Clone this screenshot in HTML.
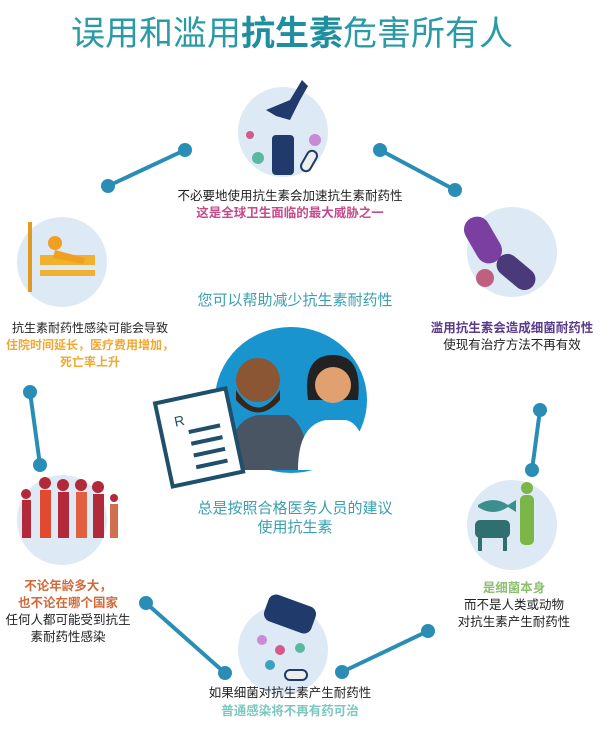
<!DOCTYPE html>
<html><head><meta charset="utf-8"><style>
html,body{margin:0;padding:0;background:#fff;}
svg text{font-family:"Liberation Sans","Noto Sans CJK SC",sans-serif;}
</style></head><body>
<svg width="615" height="727" viewBox="0 0 615 727" xmlns="http://www.w3.org/2000/svg">
<rect width="615" height="727" fill="#fff"/>
<text x="292" y="45" text-anchor="middle" font-size="34" fill="#2a9aa6">误用和滥用<tspan font-weight="bold" fill="#1f8fa0">抗生素</tspan>危害所有人</text>

<g stroke="#2a8db5" stroke-width="4" fill="#2a8db5" stroke-linecap="round">
<line x1="108" y1="186" x2="185" y2="150"/><circle cx="108" cy="186" r="5"/><circle cx="185" cy="150" r="5"/>
<line x1="380" y1="150" x2="455" y2="190"/><circle cx="380" cy="150" r="5"/><circle cx="455" cy="190" r="5"/>
<line x1="30" y1="392" x2="40" y2="465"/><circle cx="30" cy="392" r="5"/><circle cx="40" cy="465" r="5"/>
<line x1="540" y1="410" x2="532" y2="470"/><circle cx="540" cy="410" r="5"/><circle cx="532" cy="470" r="5"/>
<line x1="146" y1="603" x2="225" y2="673"/><circle cx="146" cy="603" r="5"/><circle cx="225" cy="673" r="5"/>
<line x1="342" y1="672" x2="428" y2="631"/><circle cx="342" cy="672" r="5"/><circle cx="428" cy="631" r="5"/>
</g>

<g fill="#dde9f4">
<circle cx="283" cy="132" r="45"/>
<circle cx="62" cy="262" r="45"/>
<circle cx="512" cy="252" r="45"/>
<circle cx="62" cy="520" r="45"/>
<circle cx="512" cy="525" r="45"/>
<circle cx="283" cy="650" r="45"/>
</g>
<path d="M290 100 l12 -20 l6 6 l-8 14 l-10 20 l-14 -4 l-10 -6 z" fill="#1f3a6b"/>
<rect x="272" y="135" width="22" height="40" rx="4" fill="#1f3a6b"/>
<circle cx="258" cy="158" r="6" fill="#5bb8a0"/><circle cx="315" cy="140" r="6" fill="#c98ad6"/><circle cx="250" cy="135" r="4" fill="#d35a8a"/>
<rect x="304" y="150" width="10" height="22" rx="5" fill="#eee" stroke="#1f3a6b" stroke-width="2" transform="rotate(30 309 161)"/>
<rect x="40" y="255" width="55" height="10" fill="#f0b030"/><rect x="40" y="270" width="55" height="6" fill="#f0b030"/>
<rect x="28" y="222" width="4" height="70" fill="#e09a20"/><circle cx="55" cy="243" r="7" fill="#f0a020"/><path d="M55 250 l30 8 l-2 6 l-30 -6z" fill="#f0a020"/>
<rect x="470" y="215" width="26" height="50" rx="13" fill="#7a3fa0" transform="rotate(-30 483 240)"/>
<rect x="505" y="250" width="22" height="44" rx="11" fill="#4a3a7a" transform="rotate(-50 516 272)"/>
<circle cx="485" cy="278" r="9" fill="#c06080"/>
<g fill="#b22a3a"><rect x="22" y="500" width="9" height="38"/><rect x="40" y="490" width="11" height="48" fill="#e04a30"/><rect x="58" y="492" width="11" height="46"/><rect x="76" y="492" width="11" height="46" fill="#e06040"/><rect x="93" y="494" width="11" height="44"/><rect x="110" y="504" width="8" height="34" fill="#d07050"/>
<circle cx="26" cy="494" r="5"/><circle cx="45" cy="483" r="6"/><circle cx="63" cy="485" r="6"/><circle cx="81" cy="485" r="6"/><circle cx="98" cy="487" r="6"/><circle cx="114" cy="498" r="4"/></g>
<path d="M478 505 q15 -10 30 0 l8 -5 v12 l-8 -5 q-15 10 -30 0z" fill="#3c8f8f"/>
<rect x="475" y="520" width="35" height="18" rx="5" fill="#2f6f70"/><rect x="478" y="536" width="4" height="15" fill="#2f6f70"/><rect x="503" y="536" width="4" height="15" fill="#2f6f70"/>
<rect x="520" y="495" width="14" height="50" rx="5" fill="#7ab648"/><circle cx="527" cy="488" r="6" fill="#7ab648"/>
<rect x="265" y="600" width="50" height="28" rx="8" fill="#1f3a6b" transform="rotate(20 290 614)"/>
<circle cx="262" cy="640" r="5" fill="#c98ad6"/><circle cx="280" cy="650" r="5" fill="#d35a8a"/><circle cx="300" cy="648" r="5" fill="#5bb8a0"/><circle cx="270" cy="665" r="5" fill="#3aa0c0"/>
<rect x="285" y="670" width="22" height="10" rx="5" fill="#eee" stroke="#1f3a6b" stroke-width="2"/>

<ellipse cx="291" cy="400" rx="76" ry="73" fill="#1a94cf"/>
<path d="M228 470 q0 -50 30 -55 l30 0 q20 10 20 55z" fill="#4a5563"/>
<circle cx="258" cy="380" r="22" fill="#8a5634"/><path d="M236 390 q22 35 44 0 v10 q-22 25 -44 0z" fill="#3b2418"/>
<path d="M298 470 q0 -45 28 -50 l20 0 q20 5 20 50z" fill="#fff"/>
<path d="M308 400 q-6 -45 25 -45 q30 0 25 45z" fill="#222"/><circle cx="333" cy="385" r="18" fill="#e0a070"/>
<rect x="163" y="395" width="72" height="85" fill="#fff" stroke="#1f4f6b" stroke-width="4" transform="rotate(-12 199 437)"/>
<g stroke="#1f4f6b" stroke-width="4" transform="rotate(-12 199 437)"><line x1="190" y1="430" x2="222" y2="430"/><line x1="190" y1="442" x2="222" y2="442"/><line x1="190" y1="454" x2="222" y2="454"/><line x1="190" y1="466" x2="222" y2="466"/></g>
<text x="178" y="422" font-size="14" fill="#1f4f6b" transform="rotate(-12 199 437)">R</text>

<g font-size="12.5" text-anchor="middle" fill="#222">
<text x="290" y="200">不必要地使用抗生素会加速抗生素耐药性</text>
<text x="290" y="217" fill="#c44a8a" font-weight="bold">这是全球卫生面临的最大威胁之一</text>
<text x="512" y="332" fill="#5a3a8a" font-weight="bold">滥用抗生素会造成细菌耐药性</text>
<text x="512" y="349">使现有治疗方法不再有效</text>
<text x="68" y="590" fill="#d06a3a" font-weight="bold">不论年龄多大，</text>
<text x="68" y="607" fill="#d06a3a" font-weight="bold">也不论在哪个国家</text>
<text x="68" y="624">任何人都可能受到抗生</text>
<text x="68" y="641">素耐药性感染</text>
<text x="514" y="592" fill="#8cc070" font-weight="bold">是细菌本身</text>
<text x="514" y="609">而不是人类或动物</text>
<text x="514" y="626">对抗生素产生耐药性</text>
<text x="290" y="697">如果细菌对抗生素产生耐药性</text>
<text x="290" y="715" fill="#7ac8c0" font-weight="bold">普通感染将不再有药可治</text>
</g>
<g font-size="12" text-anchor="middle" fill="#222">
<text x="90" y="332">抗生素耐药性感染可能会导致</text>
<text x="90" y="349" fill="#f0a830" font-weight="bold">住院时间延长，医疗费用增加，</text>
<text x="90" y="366" fill="#f0a830" font-weight="bold">死亡率上升</text>
</g>
<g font-size="15" text-anchor="middle" fill="#3a9fae">
<text x="295" y="305">您可以帮助减少抗生素耐药性</text>
<text x="295" y="513">总是按照合格医务人员的建议</text>
<text x="295" y="532">使用抗生素</text>
</g>
</svg>
</body></html>
